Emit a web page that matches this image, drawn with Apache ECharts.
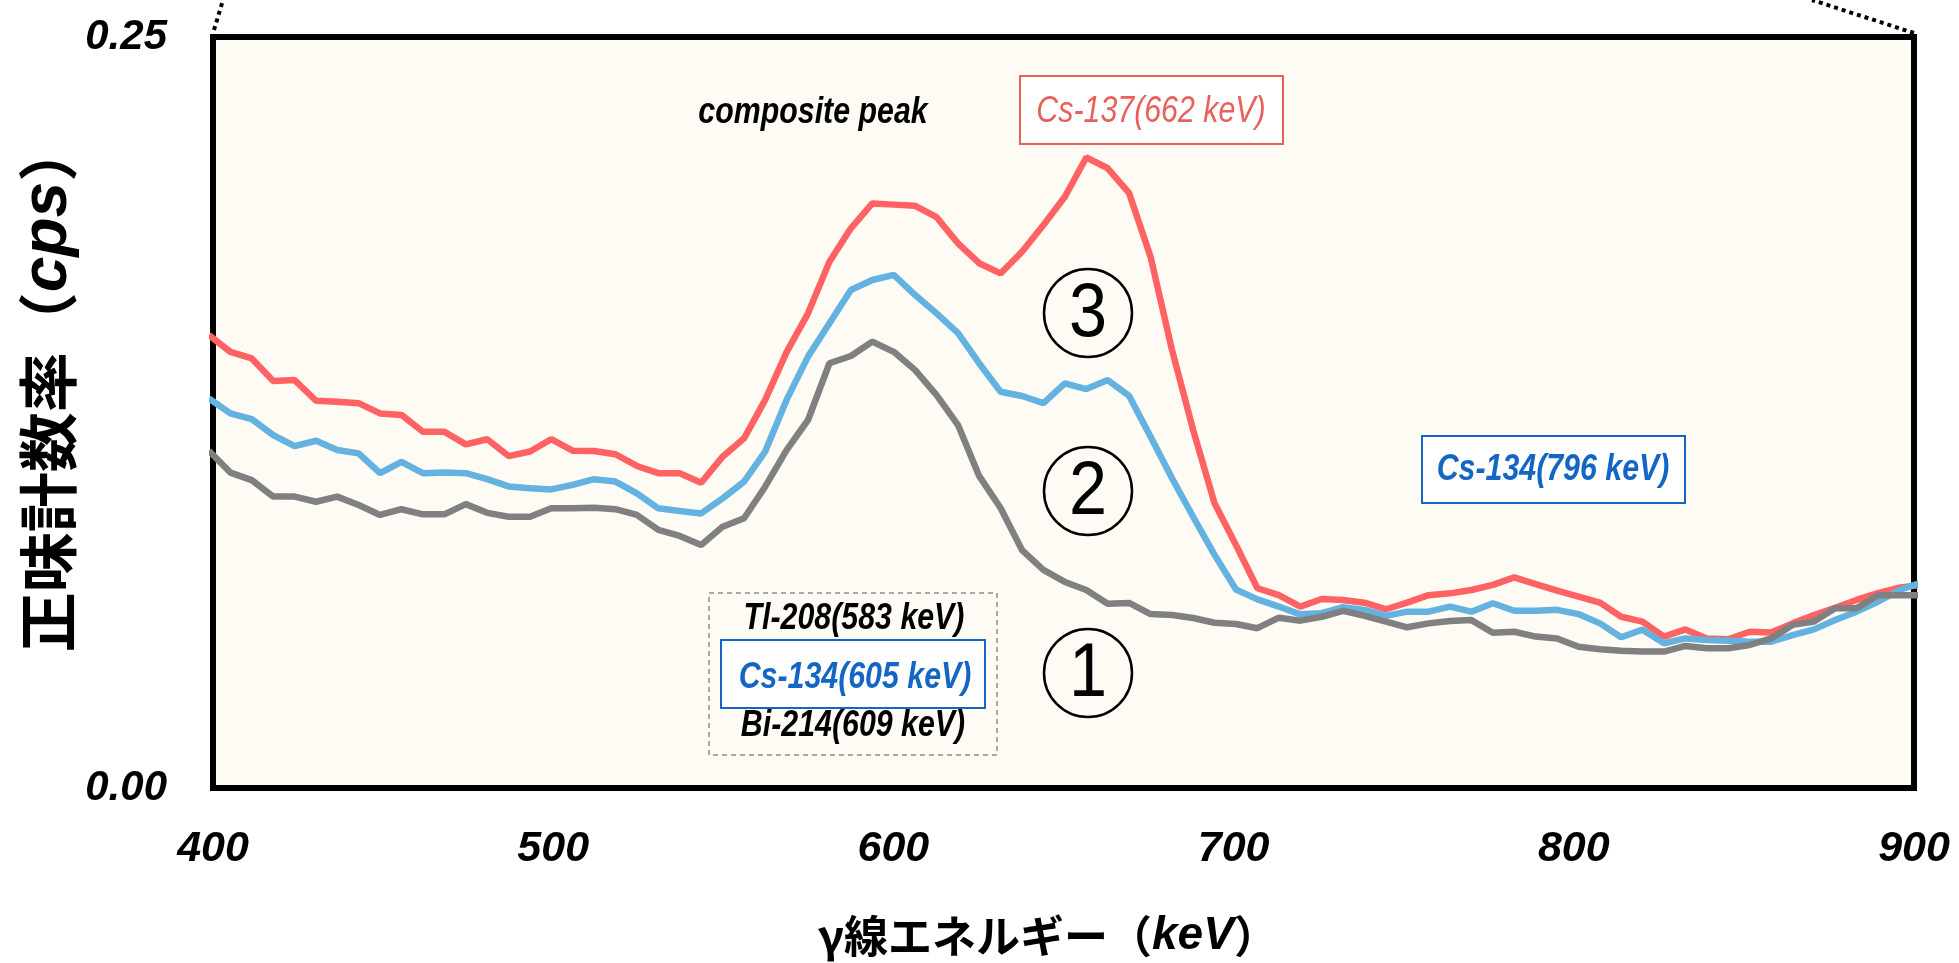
<!DOCTYPE html>
<html>
<head>
<meta charset="utf-8">
<script src="https://cdn.jsdelivr.net/npm/echarts@6/dist/echarts.min.js"></script>
<style>
  html, body { margin: 0; padding: 0; background: #fff; }
  #box { width: 1959px; height: 963px; }
</style>
</head>
<body>
<div id="box"></div>
<script>
// γ線エネルギー (keV) of each channel
var energy = [398.8, 405.1, 411.4, 417.7, 424.0, 430.3, 436.5, 442.8, 449.1, 455.4,
  461.7, 468.0, 474.3, 480.6, 486.9, 493.2, 499.4, 505.7, 512.0, 518.3,
  524.6, 530.9, 537.2, 543.5, 549.8, 556.1, 562.3, 568.6, 574.9, 581.2,
  587.5, 593.8, 600.1, 606.4, 612.7, 619.0, 625.2, 631.5, 637.8, 644.1,
  650.4, 656.7, 663.0, 669.3, 675.6, 681.9, 688.1, 694.4, 700.7, 707.0,
  713.3, 719.6, 725.9, 732.2, 738.5, 744.8, 751.0, 757.3, 763.6, 769.9,
  776.2, 782.5, 788.8, 795.1, 801.4, 807.7, 813.9, 820.2, 826.5, 832.8,
  839.1, 845.4, 851.7, 858.0, 864.3, 870.6, 876.8, 883.1, 889.4, 895.7, 902.0];

// ③ 正味計数率 (cps)
var sample3 = [0.1508, 0.1452, 0.1430, 0.1355, 0.1358, 0.1289, 0.1286, 0.1281, 0.1247, 0.1242,
  0.1186, 0.1186, 0.1144, 0.1161, 0.1105, 0.1120, 0.1161, 0.1123, 0.1122, 0.1111,
  0.1072, 0.1048, 0.1048, 0.1016, 0.1103, 0.1164, 0.1292, 0.1451, 0.1580, 0.1752,
  0.1863, 0.1946, 0.1942, 0.1938, 0.1900, 0.1813, 0.1747, 0.1713, 0.1785, 0.1874,
  0.1968, 0.2099, 0.2063, 0.1980, 0.1768, 0.1458, 0.1192, 0.0948, 0.0809, 0.0665,
  0.0642, 0.0604, 0.0629, 0.0626, 0.0617, 0.0595, 0.0617, 0.0642, 0.0648, 0.0659,
  0.0676, 0.0701, 0.0679, 0.0657, 0.0637, 0.0617, 0.0570, 0.0554, 0.0504, 0.0528,
  0.0498, 0.0495, 0.0520, 0.0518, 0.0548, 0.0576, 0.0600, 0.0626, 0.0649, 0.0667, 0.0676];

// ②
var sample2 = [0.1297, 0.1247, 0.1228, 0.1175, 0.1138, 0.1156, 0.1125, 0.1114, 0.1048, 0.1086,
  0.1048, 0.1050, 0.1048, 0.1028, 0.1004, 0.0998, 0.0994, 0.1009, 0.1028, 0.1020,
  0.0981, 0.0931, 0.0922, 0.0914, 0.0964, 0.1020, 0.1120, 0.1292, 0.1436, 0.1547,
  0.1658, 0.1691, 0.1708, 0.1641, 0.1580, 0.1514, 0.1414, 0.1319, 0.1305, 0.1281,
  0.1347, 0.1328, 0.1358, 0.1305, 0.1169, 0.1031, 0.0903, 0.0776, 0.0661, 0.0628,
  0.0604, 0.0578, 0.0582, 0.0602, 0.0593, 0.0573, 0.0587, 0.0587, 0.0604, 0.0587,
  0.0615, 0.0590, 0.0590, 0.0593, 0.0579, 0.0548, 0.0502, 0.0527, 0.0482, 0.0498,
  0.0493, 0.0490, 0.0487, 0.0487, 0.0509, 0.0528, 0.0559, 0.0587, 0.0620, 0.0659, 0.0683];

// ①
var sample1 = [0.1123, 0.1050, 0.1025, 0.0970, 0.0970, 0.0953, 0.0970, 0.0942, 0.0909, 0.0928,
  0.0911, 0.0911, 0.0945, 0.0916, 0.0903, 0.0903, 0.0931, 0.0931, 0.0933, 0.0928,
  0.0909, 0.0859, 0.0839, 0.0809, 0.0870, 0.0898, 0.1003, 0.1125, 0.1225, 0.1414,
  0.1438, 0.1486, 0.1452, 0.1391, 0.1308, 0.1208, 0.1039, 0.0932, 0.0792, 0.0726,
  0.0686, 0.0659, 0.0613, 0.0616, 0.0579, 0.0576, 0.0566, 0.0550, 0.0546, 0.0532,
  0.0567, 0.0557, 0.0570, 0.0590, 0.0573, 0.0554, 0.0535, 0.0548, 0.0556, 0.0559,
  0.0517, 0.0520, 0.0504, 0.0498, 0.0470, 0.0462, 0.0457, 0.0454, 0.0454, 0.0473,
  0.0465, 0.0465, 0.0476, 0.0498, 0.0543, 0.0554, 0.0598, 0.0598, 0.0642, 0.0642, 0.0642];

var xTicks = [400, 900, 100];      // min, max, interval
var yTicks = [0, 0.25, 0.25];

var sans = "'Liberation Sans', Arial, sans-serif";
var cjk = "'Noto Sans CJK JP', sans-serif";

function pairs(vals) {
  return energy.map(function (e, i) { return [e, vals[i]]; });
}

var myChart = echarts.init(document.getElementById('box'));

// 注記 (boxes / labels) - narrow italic look via scaleX
function label(x, y, txt, color, bold) {
  return {
    type: 'text', x: x, y: y, z: 20, scaleX: 0.82,
    style: {
      text: txt, fill: color, fontFamily: sans, fontStyle: 'italic',
      fontWeight: bold ? 'bold' : 'normal', fontSize: 37,
      align: 'center', verticalAlign: 'middle'
    }
  };
}
function box(x, y, w, h, color) {
  return {
    type: 'rect', z: 15, shape: { x: x, y: y, width: w, height: h },
    style: { fill: '#fff', stroke: color, lineWidth: 2 }
  };
}
function circled(x, y, num) {
  return [{
    type: 'circle', z: 15, shape: { cx: x, cy: y, r: 44 },
    style: { fill: 'none', stroke: '#000', lineWidth: 2.5 }
  }, {
    type: 'text', x: x, y: y + 2, z: 20, scaleX: 0.9,
    style: {
      text: num, fill: '#000', fontFamily: sans,
      fontSize: 76, align: 'center', verticalAlign: 'middle'
    }
  }];
}

var graphics = [
  // zoom guide lines
  { type: 'line', z: 1, shape: { x1: 214, y1: 30, x2: 223, y2: 0 },
    style: { stroke: '#000', lineWidth: 4, lineDash: [4, 4] } },
  { type: 'line', z: 1, shape: { x1: 1914, y1: 33, x2: 1812, y2: 0 },
    style: { stroke: '#000', lineWidth: 4, lineDash: [4, 4] } },
  // axis titles
  {
    type: 'text', x: 1048, y: 936, z: 20,
    style: {
      text: '{b|γ線エネルギー（}{i|keV}{b|）}',
      align: 'center', verticalAlign: 'middle',
      rich: {
        b: { fontFamily: cjk, fontWeight: 'bold', fontSize: 44, fill: '#000' },
        i: { fontFamily: sans, fontWeight: 'bold', fontStyle: 'italic', fontSize: 46, fill: '#000' }
      }
    }
  },
  {
    type: 'text', x: 48, y: 387, rotation: Math.PI / 2, z: 20,
    style: {
      text: '{b|正味計数率（}{i|cps}{b|）}',
      align: 'center', verticalAlign: 'middle',
      rich: {
        b: { fontFamily: cjk, fontWeight: 'bold', fontSize: 60, fill: '#000' },
        i: { fontFamily: sans, fontWeight: 'bold', fontStyle: 'italic', fontSize: 64, fill: '#000' }
      }
    }
  },
  label(813, 113, 'composite peak', '#000', true),
  box(1020, 76, 263, 68, '#E8605A'),
  label(1151, 112, 'Cs-137(662 keV)', '#E8605A', false),
  box(1422, 436, 263, 67, '#1466C4'),
  label(1553, 470, 'Cs-134(796 keV)', '#1466C4', true),
  {
    type: 'rect', z: 14, shape: { x: 709, y: 593, width: 288, height: 162 },
    style: { fill: 'none', stroke: '#A8A8A8', lineWidth: 2, lineDash: [5, 4] }
  },
  label(854, 619, 'Tl-208(583 keV)', '#000', true),
  box(721, 640, 264, 68, '#1466C4'),
  label(855, 678, 'Cs-134(605 keV)', '#1466C4', true),
  label(853, 726, 'Bi-214(609 keV)', '#000', true)
].concat(circled(1088, 313, '3'), circled(1088, 491, '2'), circled(1088, 673, '1'));

var option = {
  animation: false,
  grid: {
    show: true, left: 213, top: 37, right: 45, bottom: 175,
    backgroundColor: '#FEFBF5', borderColor: '#000', borderWidth: 6
  },
  xAxis: {
    type: 'value', min: xTicks[0], max: xTicks[1], interval: xTicks[2],
    axisLine: { show: false }, axisTick: { show: false }, splitLine: { show: false },
    axisLabel: {
      margin: 40, color: '#000', fontFamily: sans, fontWeight: 'bold',
      fontStyle: 'italic', fontSize: 43
    }
  },
  yAxis: {
    type: 'value', min: yTicks[0], max: yTicks[1], interval: yTicks[2],
    axisLine: { show: false }, axisTick: { show: false }, splitLine: { show: false },
    axisLabel: {
      margin: 46, color: '#000', fontFamily: sans, fontWeight: 'bold',
      fontStyle: 'italic', fontSize: 42,
      formatter: function (v) { return v.toFixed(2); }
    }
  },
  series: [
    { name: '③', type: 'line', data: pairs(sample3), symbol: 'none',
      lineStyle: { color: '#FF6262', width: 6.5 }, z: 3 },
    { name: '②', type: 'line', data: pairs(sample2), symbol: 'none',
      lineStyle: { color: '#63B2E0', width: 6.5 }, z: 4 },
    { name: '①', type: 'line', data: pairs(sample1), symbol: 'none',
      lineStyle: { color: '#808080', width: 6.5 }, z: 5 }
  ],
  graphic: graphics
};

myChart.setOption(option);
</script>
</body>
</html>
